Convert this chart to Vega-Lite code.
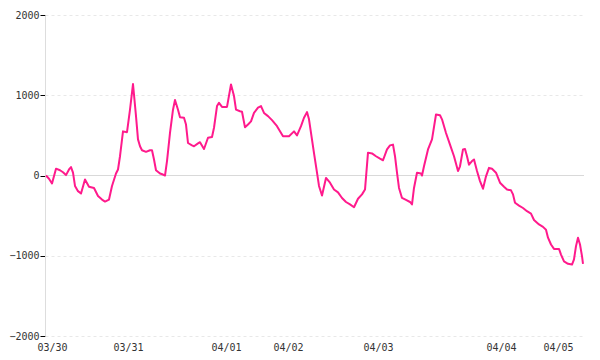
{
  "$schema": "https://vega.github.io/schema/vega-lite/v6.json",
  "autosize": "none",
  "padding": {"left": 45, "top": 15, "right": 16, "bottom": 24},
  "width": 539,
  "height": 321,
  "background": "#ffffff",
  "config": {"view": {"stroke": null}},
  "data": {"values": [
    {"t":0,"v":0},{"t":3,"v":-40},{"t":6,"v":-100},{"t":10,"v":85},{"t":14,"v":65},{"t":17,"v":40},{"t":20,"v":5},{"t":23,"v":75},{"t":25,"v":105},{"t":27,"v":35},{"t":29,"v":-130},{"t":32,"v":-195},{"t":35,"v":-225},{"t":39,"v":-50},{"t":43,"v":-140},{"t":48,"v":-155},{"t":52,"v":-255},{"t":56,"v":-300},{"t":59,"v":-325},{"t":63,"v":-300},{"t":66,"v":-130},{"t":70,"v":25},{"t":72,"v":75},{"t":74,"v":240},{"t":77,"v":550},{"t":81,"v":540},{"t":84,"v":820},{"t":87,"v":1140},{"t":90,"v":740},{"t":92,"v":450},{"t":94,"v":365},{"t":96,"v":315},{"t":100,"v":295},{"t":104,"v":315},{"t":106,"v":315},{"t":108,"v":200},{"t":110,"v":65},{"t":114,"v":25},{"t":117,"v":12},{"t":119,"v":0},{"t":121,"v":180},{"t":124,"v":530},{"t":127,"v":820},{"t":129,"v":940},{"t":132,"v":820},{"t":134,"v":725},{"t":138,"v":720},{"t":140,"v":635},{"t":142,"v":405},{"t":146,"v":375},{"t":148,"v":365},{"t":152,"v":400},{"t":154,"v":415},{"t":158,"v":330},{"t":162,"v":470},{"t":166,"v":480},{"t":168,"v":595},{"t":171,"v":865},{"t":173,"v":905},{"t":176,"v":855},{"t":181,"v":855},{"t":185,"v":1135},{"t":188,"v":990},{"t":190,"v":820},{"t":194,"v":800},{"t":196,"v":795},{"t":199,"v":600},{"t":202,"v":635},{"t":205,"v":675},{"t":208,"v":780},{"t":212,"v":845},{"t":215,"v":865},{"t":218,"v":780},{"t":222,"v":740},{"t":226,"v":690},{"t":231,"v":615},{"t":237,"v":490},{"t":243,"v":490},{"t":248,"v":550},{"t":251,"v":500},{"t":255,"v":615},{"t":258,"v":720},{"t":261,"v":790},{"t":263,"v":700},{"t":265,"v":530},{"t":268,"v":280},{"t":271,"v":35},{"t":273,"v":-130},{"t":276,"v":-250},{"t":280,"v":-30},{"t":284,"v":-90},{"t":288,"v":-175},{"t":292,"v":-210},{"t":296,"v":-280},{"t":300,"v":-330},{"t":304,"v":-360},{"t":308,"v":-395},{"t":312,"v":-290},{"t":316,"v":-235},{"t":319,"v":-175},{"t":322,"v":285},{"t":326,"v":275},{"t":330,"v":240},{"t":334,"v":210},{"t":337,"v":190},{"t":341,"v":325},{"t":344,"v":375},{"t":347,"v":385},{"t":349,"v":240},{"t":351,"v":35},{"t":353,"v":-155},{"t":356,"v":-280},{"t":360,"v":-305},{"t":364,"v":-330},{"t":366,"v":-360},{"t":368,"v":-155},{"t":371,"v":35},{"t":375,"v":25},{"t":376,"v":0},{"t":378,"v":115},{"t":382,"v":325},{"t":386,"v":450},{"t":390,"v":760},{"t":394,"v":750},{"t":396,"v":700},{"t":400,"v":530},{"t":404,"v":385},{"t":408,"v":240},{"t":412,"v":55},{"t":414,"v":115},{"t":417,"v":325},{"t":419,"v":330},{"t":421,"v":240},{"t":423,"v":135},{"t":426,"v":180},{"t":428,"v":200},{"t":431,"v":55},{"t":434,"v":-70},{"t":437,"v":-165},{"t":440,"v":-10},{"t":443,"v":95},{"t":446,"v":85},{"t":450,"v":35},{"t":454,"v":-90},{"t":458,"v":-140},{"t":461,"v":-175},{"t":465,"v":-185},{"t":467,"v":-235},{"t":469,"v":-340},{"t":473,"v":-375},{"t":477,"v":-405},{"t":481,"v":-445},{"t":485,"v":-475},{"t":488,"v":-555},{"t":493,"v":-610},{"t":497,"v":-640},{"t":500,"v":-675},{"t":502,"v":-775},{"t":505,"v":-860},{"t":508,"v":-915},{"t":513,"v":-915},{"t":515,"v":-985},{"t":518,"v":-1070},{"t":522,"v":-1100},{"t":526,"v":-1110},{"t":528,"v":-1045},{"t":530,"v":-880},{"t":532,"v":-775},{"t":534,"v":-860},{"t":536,"v":-1005},{"t":537,"v":-1100}
  ]},
  "layer": [
    {
      "data": {"values": [{"z": 0}]},
      "mark": {"type": "rule", "color": "#d9d9d9", "strokeWidth": 1},
      "encoding": {"y": {"field": "z", "type": "quantitative", "scale": {"domain": [-2000, 2000], "nice": false}}}
    },
    {
      "mark": {"type": "line", "color": "#ff1a8c", "strokeWidth": 2, "strokeJoin": "round"},
      "encoding": {
        "x": {
          "field": "t", "type": "quantitative",
          "scale": {"domain": [-1, 538], "nice": false, "zero": false},
          "axis": {
            "title": null, "domain": false, "ticks": false, "grid": false,
            "values": [6, 82, 180, 242, 332, 455, 512],
            "labelExpr": "datum.value < 40 ? '03/30' : datum.value < 130 ? '03/31' : datum.value < 200 ? '04/01' : datum.value < 300 ? '04/02' : datum.value < 400 ? '04/03' : datum.value < 480 ? '04/04' : '04/05'",
            "labelFont": "DejaVu Sans Mono", "labelFontSize": 10, "labelColor": "#333333",
            "labelPadding": 6, "labelFlush": false, "labelOverlap": false
          }
        },
        "y": {
          "field": "v", "type": "quantitative",
          "scale": {"domain": [-2000, 2000], "nice": false},
          "axis": {
            "title": null, "values": [-2000, -1000, 0, 1000, 2000], "format": "d",
            "domain": true, "domainColor": "#dddddd",
            "ticks": true, "tickColor": "#000000", "tickSize": 5,
            "grid": true, "gridDash": [3, 3],
            "gridColor": {"condition": {"test": "datum.value === 0", "value": "transparent"}, "value": "#e8e8e8"},
            "labelFont": "DejaVu Sans Mono", "labelFontSize": 10, "labelColor": "#333333",
            "labelPadding": 1
          }
        }
      }
    }
  ]
}
